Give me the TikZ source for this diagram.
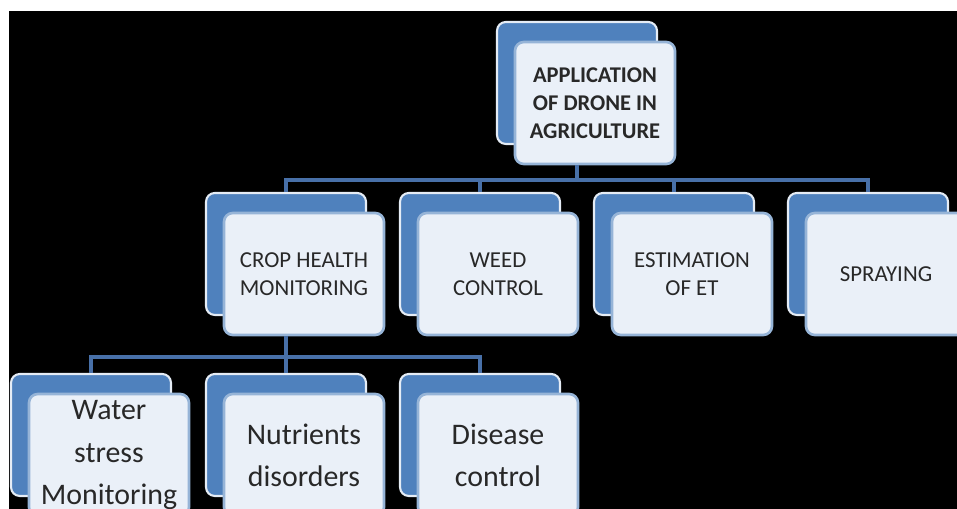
\documentclass[tikz,border=0pt]{standalone}
\usepackage{fontspec}
\setmainfont{Carlito}
\usetikzlibrary{calc}

\definecolor{boxblue}{RGB}{79,129,189}
\definecolor{paleblue}{RGB}{234,240,248}
\definecolor{rimblue}{RGB}{150,180,215}
\definecolor{linkblue}{RGB}{72,112,168}
\definecolor{textgray}{RGB}{40,40,40}

\begin{document}
\begin{tikzpicture}[x=0.02cm,y=-0.02cm,
  backbox/.style={draw=white!85!boxblue,line width=1.2pt,fill=boxblue,rounded corners=5pt,
    minimum width=3.2cm,minimum height=2.44cm,inner sep=0pt},
  frontbox/.style={draw=rimblue,line width=1.5pt,fill=paleblue,rounded corners=5pt,
    minimum width=3.2cm,minimum height=2.44cm,inner sep=0pt,align=center,text=textgray,
    font=\fontsize{13}{16}\selectfont},
  leafbox/.style={frontbox,font=\fontsize{17}{24}\selectfont},
  link/.style={draw=linkblue,line width=2.6pt}]
  \fill[white] (0,0) rectangle (957,509);
  \fill[black] (9,11) rectangle (957,509);
  \useasboundingbox (0,0) rectangle (957,509);
  % root
  \node[backbox] (appB) at (577,83) {};
  \node[frontbox,font=\bfseries\fontsize{12.8}{16}\selectfont] (appF) at (595,103) {APPLICATION\\OF DRONE IN\\AGRICULTURE};
  % second row
  \node[backbox] (cropB) at (286,254) {};
  \node[frontbox] (cropF) at (304,274) {CROP HEALTH\\MONITORING};
  \node[backbox] (weedB) at (480,254) {};
  \node[frontbox] (weedF) at (498,274) {WEED\\CONTROL};
  \node[backbox] (estB) at (674,254) {};
  \node[frontbox] (estF) at (692,274) {ESTIMATION\\OF ET};
  \node[backbox] (sprayB) at (868,254) {};
  \node[frontbox] (sprayF) at (886,274) {SPRAYING};
  % third row
  \node[backbox] (waterB) at (91,435) {};
  \node[leafbox] (waterF) at (109,455) {Water\\stress\\Monitoring};
  \node[backbox] (nutrB) at (286,435) {};
  \node[leafbox] (nutrF) at (304,455) {Nutrients\\disorders};
  \node[backbox] (disB) at (480,435) {};
  \node[leafbox] (disF) at (498,455) {Disease\\control};
  % connectors
  \coordinate (bus1) at (577,180);
  \draw[link] (appB |- appF.south) -- (bus1);
  \draw[link] (bus1) -| (cropB.north);
  \draw[link] (bus1) -| (weedB.north);
  \draw[link] (bus1) -| (estB.north);
  \draw[link] (bus1) -| (sprayB.north);
  \coordinate (bus2) at (286,357);
  \draw[link] (cropB |- cropF.south) -- (bus2);
  \draw[link] (bus2) -| (waterB.north);
  \draw[link] (bus2) -- (nutrB.north);
  \draw[link] (bus2) -| (disB.north);
\end{tikzpicture}
\end{document}
